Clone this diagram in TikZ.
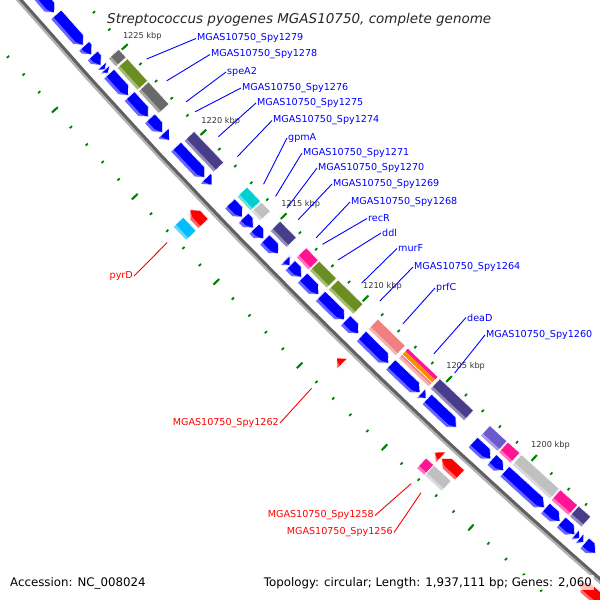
\documentclass[tikz,border=0pt]{standalone}
\usepackage{fontspec}
\setmainfont{DejaVu Sans}[ItalicFont={DejaVu Sans Oblique}]
\usepackage{tikz}
\usepackage{xcolor}

\definecolor{featblue}{RGB}{0,0,255}
\definecolor{featred}{RGB}{255,0,0}
\definecolor{tickgreen}{RGB}{0,128,0}
\definecolor{cogolive}{RGB}{107,142,35}
\definecolor{cogdim}{RGB}{105,105,105}
\definecolor{cogslate}{RGB}{72,61,139}
\definecolor{cogslatelight}{RGB}{106,90,205}
\definecolor{cogturq}{RGB}{0,206,209}
\definecolor{cogsilver}{RGB}{192,192,192}
\definecolor{cogpink}{RGB}{255,20,147}
\definecolor{cogsalmon}{RGB}{240,128,128}
\definecolor{cogorange}{RGB}{255,140,0}
\definecolor{cogsky}{RGB}{0,191,255}

\tikzstyle{bluelabel}=[anchor=west, inner sep=1pt, text=featblue, font=\fontsize{9.6}{11}\selectfont]
\tikzstyle{redlabel}=[anchor=east, inner sep=1pt, text=featred, font=\fontsize{9.6}{11}\selectfont]
\tikzstyle{blueline}=[draw=featblue, line width=0.9pt]
\tikzstyle{redline}=[draw=featred, line width=0.9pt]
\tikzstyle{tickdot}=[draw=tickgreen, line width=1.8pt]
\tikzstyle{ticklong}=[draw=tickgreen, line width=2pt]
\tikzstyle{ticklabel}=[inner sep=0pt, text=black!80, font=\fontsize{8.2}{9}\selectfont]

% position on the map: kbp, radial offset from the backbone (px)
\newcommand{\gpos}[2]{({4450+(5869+(#2))*cos(132.27+0.2285*((#1)-1200))},{-3850+(5869+(#2))*sin(132.27+0.2285*((#1)-1200))})}

\newcommand{\genearrow}[5]{%
  \pgfmathsetmacro{\arrhead}{(#1>#2) ? 0.32 : -0.32}%
  \pgfmathsetmacro{\arrknee}{(abs(#1-#2)>0.32) ? #2+\arrhead : #1}%
  \pgfmathsetmacro{\arrmid}{(#3+#4)/2}%
  \pgfmathsetmacro{\arrinner}{#4-3.5}%
  \fill[#5!60!white] \gpos{#1}{#3} -- \gpos{\arrknee}{#3} -- \gpos{#2}{\arrmid} -- \gpos{\arrknee}{#4} -- \gpos{#1}{#4} -- cycle;
  \fill[#5] \gpos{#1}{#3} -- \gpos{\arrknee}{#3} -- \gpos{#2}{\arrmid} -- \gpos{\arrknee}{\arrinner} -- \gpos{#1}{\arrinner} -- cycle;
  \draw[white, line width=0.6pt, line join=round] \gpos{#1}{#3} -- \gpos{\arrknee}{#3} -- \gpos{#2}{\arrmid} -- \gpos{\arrknee}{#4} -- \gpos{#1}{#4} -- cycle;
}

\newcommand{\cogbox}[5]{%
  \pgfmathsetmacro{\arrinner}{#4-3.5}%
  \fill[#5!60!white] \gpos{#1}{#3} -- \gpos{#2}{#3} -- \gpos{#2}{#4} -- \gpos{#1}{#4} -- cycle;
  \fill[#5] \gpos{#1}{#3} -- \gpos{#2}{#3} -- \gpos{#2}{\arrinner} -- \gpos{#1}{\arrinner} -- cycle;
  \draw[white, line width=0.6pt] \gpos{#1}{#3} -- \gpos{#2}{#3} -- \gpos{#2}{#4} -- \gpos{#1}{#4} -- cycle;
}

\begin{document}
\begin{tikzpicture}[x=1pt, y=-1pt]
\useasboundingbox (0,0) rectangle (600,600);
\clip (0,0) rectangle (600,600);

\foreach \k in {1192,...,1233} {
  \draw[tickdot] \gpos{\k}{-48.5} -- \gpos{\k}{-45.5};
  \draw[tickdot] \gpos{\k}{45.5} -- \gpos{\k}{48.5};
}
\foreach \k in {1195,1200,...,1230} {
  \draw[ticklong] \gpos{\k}{-51} -- \gpos{\k}{-43};
  \draw[ticklong] \gpos{\k}{43} -- \gpos{\k}{51};
}
\foreach \k in {1200,1205,...,1225}
  \path \gpos{\k-0.15}{-67.5} node (t\k)[ticklabel] {\k\ kbp};

\draw[line width=5pt, black!30] plot[domain=129.5:140.5, samples=60] ({4450+5870*cos(\x)},{-3850+5870*sin(\x)});
\draw[line width=3pt, black!62] plot[domain=129.5:140.5, samples=60] ({4450+5868.5*cos(\x)},{-3850+5868.5*sin(\x)});

\genearrow{1232.5}{1228.1}{-24}{-10}{featblue}
\genearrow{1228.0}{1226.25}{-24}{-10}{featblue}
\genearrow{1226.2}{1225.7}{-24}{-10}{featblue}
\genearrow{1225.65}{1225.1}{-24}{-10}{featblue}
\genearrow{1225.05}{1224.85}{-24}{-10}{featblue}
\genearrow{1224.85}{1224.65}{-24}{-10}{featblue}
\genearrow{1224.6}{1223.35}{-24}{-10}{featblue}
\genearrow{1223.3}{1222.1}{-24}{-10}{featblue}
\genearrow{1222.0}{1221.2}{-24}{-10}{featblue}
\genearrow{1221.15}{1220.75}{-24}{-10}{featblue}
\genearrow{1220.35}{1218.55}{-24}{-10}{featblue}
\genearrow{1218.5}{1218.1}{-24}{-10}{featblue}
\genearrow{1217.0}{1216.2}{-24}{-10}{featblue}
\genearrow{1216.15}{1215.55}{-24}{-10}{featblue}
\genearrow{1215.5}{1214.9}{-24}{-10}{featblue}
\genearrow{1214.85}{1214.0}{-24}{-10}{featblue}
\genearrow{1213.6}{1213.3}{-24}{-10}{featblue}
\genearrow{1213.3}{1212.6}{-24}{-10}{featblue}
\genearrow{1212.55}{1211.55}{-24}{-10}{featblue}
\genearrow{1211.45}{1210.0}{-24}{-10}{featblue}
\genearrow{1209.95}{1209.15}{-24}{-10}{featblue}
\genearrow{1209.0}{1207.35}{-24}{-10}{featblue}
\genearrow{1207.25}{1205.5}{-24}{-10}{featblue}
\genearrow{1205.45}{1205.15}{-24}{-10}{featblue}
\genearrow{1205.1}{1203.35}{-24}{-10}{featblue}
\genearrow{1202.4}{1201.35}{-24}{-10}{featblue}
\genearrow{1201.3}{1200.6}{-24}{-10}{featblue}
\genearrow{1200.55}{1198.25}{-24}{-10}{featblue}
\genearrow{1198.2}{1197.35}{-24}{-10}{featblue}
\genearrow{1197.3}{1196.5}{-24}{-10}{featblue}
\genearrow{1196.5}{1196.25}{-24}{-10}{featblue}
\genearrow{1196.25}{1196.0}{-24}{-10}{featblue}
\genearrow{1195.95}{1195.3}{-24}{-10}{featblue}

\genearrow{1217.15}{1217.98}{9}{23}{featred}
\genearrow{1208.75}{1209.1}{9}{23}{featred}
\genearrow{1202.95}{1203.3}{9}{23}{featred}
\genearrow{1201.85}{1202.9}{9}{23}{featred}
\genearrow{1192.5}{1195.0}{9}{23}{featred}

\cogbox{1225.1}{1224.62}{-41}{-27}{cogdim}
\cogbox{1224.55}{1223.25}{-41}{-27}{cogolive}
\cogbox{1223.2}{1221.9}{-41}{-27}{cogdim}
\cogbox{1220.3}{1218.45}{-41}{-27}{cogslate}
\cogbox{1217.0}{1216.15}{-41}{-27}{cogturq}
\cogbox{1216.1}{1215.55}{-41}{-27}{cogsilver}
\cogbox{1214.95}{1213.95}{-41}{-27}{cogslate}
\cogbox{1213.35}{1212.6}{-41}{-27}{cogpink}
\cogbox{1212.55}{1211.5}{-41}{-27}{cogolive}
\cogbox{1211.4}{1209.9}{-41}{-27}{cogolive}
\cogbox{1209.0}{1207.35}{-41}{-27}{cogsalmon}
\fill[cogpink] \gpos{1207.2}{-41} -- \gpos{1205.4}{-41} -- \gpos{1205.4}{-37} -- \gpos{1207.2}{-37} -- cycle;
\fill[cogorange] \gpos{1207.2}{-37} -- \gpos{1205.4}{-37} -- \gpos{1205.4}{-32.5} -- \gpos{1207.2}{-32.5} -- cycle;
\cogbox{1207.2}{1205.4}{-32.5}{-27}{cogsalmon}
\draw[white, line width=0.6pt] \gpos{1207.2}{-41} -- \gpos{1205.4}{-41} -- \gpos{1205.4}{-27} -- \gpos{1207.2}{-27} -- cycle;
\cogbox{1205.3}{1203.3}{-41}{-27}{cogslate}
\cogbox{1202.35}{1201.35}{-41}{-27}{cogslatelight}
\cogbox{1201.3}{1200.6}{-41}{-27}{cogpink}
\cogbox{1200.5}{1198.3}{-41}{-27}{cogsilver}
\cogbox{1198.25}{1197.25}{-41}{-27}{cogpink}
\cogbox{1197.2}{1196.5}{-41}{-27}{cogslate}

\cogbox{1217.95}{1217.15}{26}{40}{cogsky}
\cogbox{1203.4}{1202.95}{26}{40}{cogpink}
\cogbox{1202.95}{1201.95}{26}{40}{cogsilver}

\node (l1279)[bluelabel] at (196,38.5) {MGAS10750\_Spy1279};
\node (l1278)[bluelabel] at (210,54.5) {MGAS10750\_Spy1278};
\node (lspeA2)[bluelabel] at (226,72) {speA2};
\node (l1276)[bluelabel] at (241,88) {MGAS10750\_Spy1276};
\node (l1275)[bluelabel] at (256,103) {MGAS10750\_Spy1275};
\node (l1274)[bluelabel] at (272,120.5) {MGAS10750\_Spy1274};
\node (lgpmA)[bluelabel] at (287,138) {gpmA};
\node (l1271)[bluelabel] at (302,153) {MGAS10750\_Spy1271};
\node (l1270)[bluelabel] at (317,168) {MGAS10750\_Spy1270};
\node (l1269)[bluelabel] at (332,184) {MGAS10750\_Spy1269};
\node (l1268)[bluelabel] at (350,202) {MGAS10750\_Spy1268};
\node (lrecR)[bluelabel] at (367,218.5) {recR};
\node (lddl)[bluelabel] at (381,233) {ddl};
\node (lmurF)[bluelabel] at (397,248.5) {murF};
\node (l1264)[bluelabel] at (413,267) {MGAS10750\_Spy1264};
\node (lprfC)[bluelabel] at (435,288) {prfC};
\node (ldeaD)[bluelabel] at (466,317.5) {deaD};
\node (l1260)[bluelabel] at (485,335) {MGAS10750\_Spy1260};

\node (lpyrD)[redlabel] at (134,276) {pyrD};
\node (l1262)[redlabel] at (280,423) {MGAS10750\_Spy1262};
\node (l1258)[redlabel] at (375,515.5) {MGAS10750\_Spy1258};
\node (l1256)[redlabel] at (394,532.5) {MGAS10750\_Spy1256};

\path \gpos{1223.98}{-55} coordinate (p1279);
\path \gpos{1222.70}{-55} coordinate (p1278);
\path \gpos{1221.47}{-55} coordinate (pspeA2);
\path \gpos{1220.89}{-55} coordinate (p1276);
\path \gpos{1219.42}{-55} coordinate (p1275);
\path \gpos{1218.23}{-55} coordinate (p1274);
\path \gpos{1216.59}{-55} coordinate (pgpmA);
\path \gpos{1215.85}{-55} coordinate (p1271);
\path \gpos{1215.15}{-55} coordinate (p1270);
\path \gpos{1214.45}{-55} coordinate (p1269);
\path \gpos{1213.35}{-55} coordinate (p1268);
\path \gpos{1212.96}{-55} coordinate (precR);
\path \gpos{1212.01}{-55} coordinate (pddl);
\path \gpos{1210.58}{-55} coordinate (pmurF);
\path \gpos{1209.48}{-55} coordinate (p1264);
\path \gpos{1208.08}{-55} coordinate (pprfC);
\path \gpos{1206.22}{-55} coordinate (pdeaD);
\path \gpos{1205.0}{-55} coordinate (p1260);
\path \gpos{1217.64}{55} coordinate (ppyrD);
\path \gpos{1208.96}{55} coordinate (p1262);
\path \gpos{1203.12}{55} coordinate (p1258);
\path \gpos{1202.55}{55} coordinate (p1256);

\draw[blueline] (p1279) -- (l1279.west);
\draw[blueline] (p1278) -- (l1278.west);
\draw[blueline] (pspeA2) -- (lspeA2.west);
\draw[blueline] (p1276) -- (l1276.west);
\draw[blueline] (p1275) -- (l1275.west);
\draw[blueline] (p1274) -- (l1274.west);
\draw[blueline] (pgpmA) -- (lgpmA.west);
\draw[blueline] (p1271) -- (l1271.west);
\draw[blueline] (p1270) -- (l1270.west);
\draw[blueline] (p1269) -- (l1269.west);
\draw[blueline] (p1268) -- (l1268.west);
\draw[blueline] (precR) -- (lrecR.west);
\draw[blueline] (pddl) -- (lddl.west);
\draw[blueline] (pmurF) -- (lmurF.west);
\draw[blueline] (p1264) -- (l1264.west);
\draw[blueline] (pprfC) -- (lprfC.west);
\draw[blueline] (pdeaD) -- (ldeaD.west);
\draw[blueline] (p1260) -- (l1260.west);
\draw[redline] (ppyrD) -- (lpyrD.east);
\draw[redline] (p1262) -- (l1262.east);
\draw[redline] (p1258) -- (l1258.east);
\draw[redline] (p1256) -- (l1256.east);

\node (title)[anchor=base west, inner sep=0pt, text=black!85, font=\fontsize{13.5}{16}\selectfont\itshape] at (107,23) {Streptococcus pyogenes MGAS10750, complete genome};
\node (acc)[anchor=base west, inner sep=0pt, font=\fontsize{11.8}{14}\selectfont] at (10,586) {Accession: NC\_008024};
\node (topo)[anchor=base east, inner sep=2pt, fill=white, fill opacity=0.75, text opacity=1, font=\fontsize{11.8}{14}\selectfont] at (594,586) {Topology: circular; Length: 1,937,111 bp; Genes: 2,060};
\end{tikzpicture}
\end{document}
